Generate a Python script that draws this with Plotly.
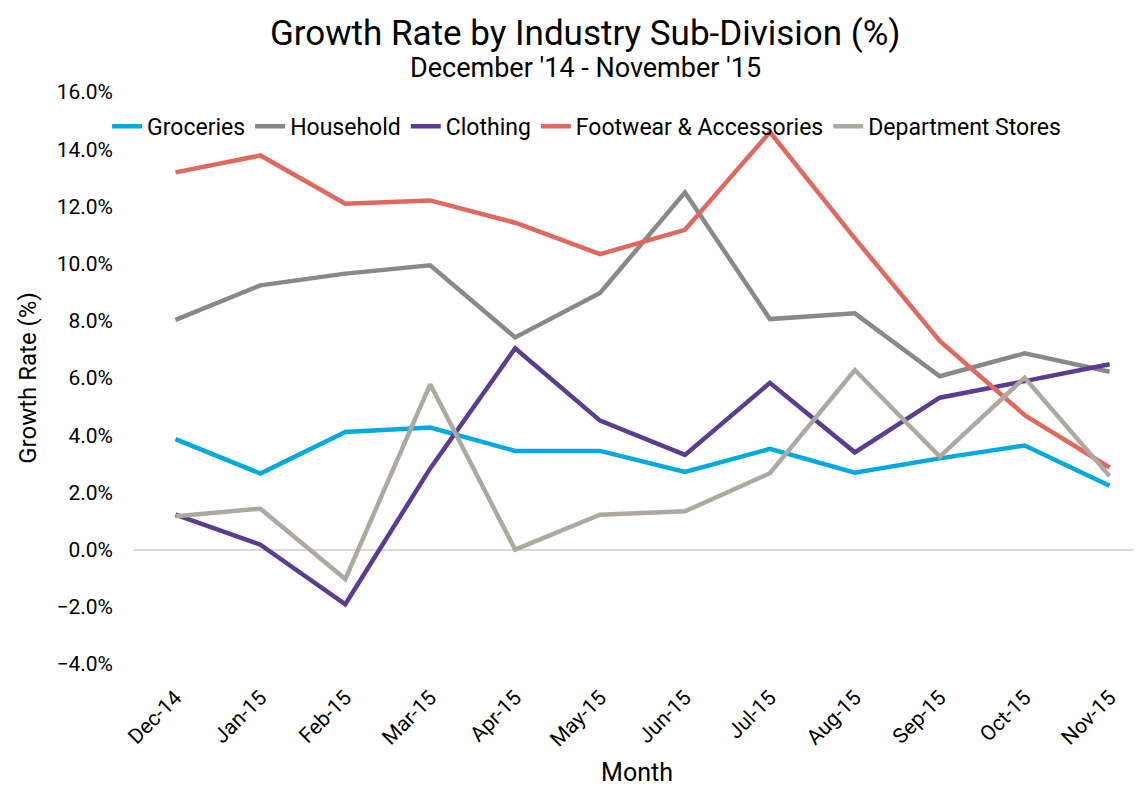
import plotly.graph_objects as go

months = ["Dec-14", "Jan-15", "Feb-15", "Mar-15", "Apr-15", "May-15",
          "Jun-15", "Jul-15", "Aug-15", "Sep-15", "Oct-15", "Nov-15"]

groceries = [3.86, 2.66, 4.11, 4.27, 3.45, 3.45, 2.72, 3.52, 2.69, 3.19, 3.64, 2.23]
household = [8.03, 9.24, 9.65, 9.94, 7.42, 8.97, 12.49, 8.06, 8.26, 6.06, 6.86, 6.22]
clothing = [1.22, 0.17, -1.91, 2.84, 7.04, 4.51, 3.31, 5.83, 3.40, 5.31, 5.89, 6.48]
footwear = [13.19, 13.78, 12.09, 12.21, 11.43, 10.33, 11.18, 14.60, 10.88, 7.30, 4.70, 2.87]
dept_stores = [1.17, 1.43, -1.03, 5.78, 0.0, 1.22, 1.34, 2.67, 6.28, 3.25, 6.01, 2.57]

series = [
    ("Groceries", groceries, "#00A9E0"),
    ("Household", household, "#898989"),
    ("Clothing", clothing, "#5B3C92"),
    ("Footwear & Accessories", footwear, "#E0685E"),
    ("Department Stores", dept_stores, "#ADA9A0"),
]

FONT = "Roboto, Arial, sans-serif"

fig = go.Figure()
for name, vals, color in series:
    fig.add_trace(go.Scatter(
        x=months, y=[v / 100 for v in vals], name=name, mode="lines",
        line=dict(color=color, width=4.5),
    ))

# page body has an 8px margin, so the figure is sized to fit inside the window
fig.update_layout(
    width=1133, height=779,
    template="plotly_white",
    plot_bgcolor="white", paper_bgcolor="white",
    font=dict(family=FONT, color="black", size=21),
    margin=dict(l=125, r=0, t=84, b=123),
    showlegend=True,
    legend=dict(orientation="h", x=0.45, xanchor="center", y=0.94, yanchor="middle",
                font=dict(size=23), bgcolor="rgba(0,0,0,0)", itemwidth=30,
                tracegroupgap=0),
    annotations=[
        dict(text="Growth Rate by Industry Sub-Division (%)", xref="paper", yref="paper",
             x=0.449, y=1, yanchor="middle", yshift=59, showarrow=False,
             font=dict(size=35)),
        dict(text="December '14 - November '15", xref="paper", yref="paper",
             x=0.449, y=1, yanchor="middle", yshift=24, showarrow=False,
             font=dict(size=27)),
    ],
)

fig.update_xaxes(
    type="category", range=[-0.5, 11.37], showgrid=False, showline=False,
    automargin=False, tickangle=-45, tickfont=dict(size=21),
    ticks="outside", ticklen=12, tickcolor="rgba(0,0,0,0)",
    title=dict(text="Month", font=dict(size=25), standoff=24),
)
fig.update_yaxes(
    range=[-0.04, 0.16], dtick=0.02, tickformat=".1%", showgrid=False,
    automargin=False, zeroline=True, zerolinecolor="#D9D9D9", zerolinewidth=1.5,
    ticklabelstandoff=19, tickfont=dict(size=21),
    title=dict(text="Growth Rate (%)", font=dict(size=24), standoff=13),
)

fig.write_html("out.html")
